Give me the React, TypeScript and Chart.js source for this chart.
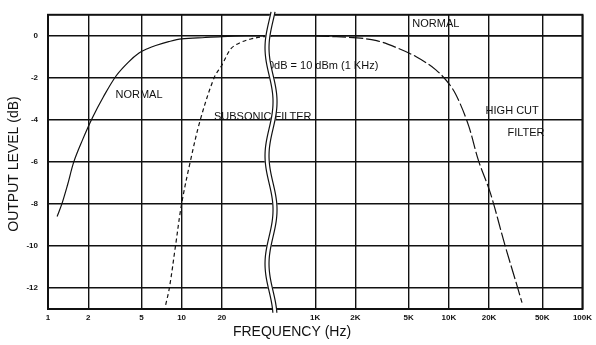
import React, { useEffect, useRef } from "react";
import { Chart, registerables } from "chart.js";

Chart.register(...registerables);

// Broken log axis: one decade (47.5 Hz .. 475 Hz) is cut out
const BREAK_LOW = 47.5;
const BREAK_HIGH = 475;

const xTickFreqs = [1, 2, 5, 10, 20, 1000, 2000, 5000, 10000, 20000, 50000, 100000];
const xTickLabels = ["1", "2", "5", "10", "20", "1K", "2K", "5K", "10K", "20K", "50K", "100K"];
const yTickVals = [-12, -10, -8, -6, -4, -2, 0];

const normalFreq = [1.17, 1.27, 1.4, 1.56, 1.8, 2.15, 2.6, 3.24, 4, 4.8, 5.6, 6.4, 8, 10, 15, 20, 30, 47.5, 475, 1000, 2000, 5000, 10000, 20000, 50000, 100000];
const normalDb = [-8.6, -8.0, -7.1, -6.0, -5.0, -3.9, -2.9, -1.9, -1.25, -0.82, -0.6, -0.46, -0.28, -0.15, -0.08, -0.04, -0.01, 0, 0, 0, 0, 0, 0, 0, 0, 0];

const subFreq = [7.6, 8.1, 9.0, 10, 11.6, 13.8, 17.5, 20, 23.5, 28, 33, 40, 47.5];
const subDb = [-12.8, -12, -10, -8, -6, -4, -2, -1.4, -0.6, -0.3, -0.15, -0.05, 0];

const highFreq = [1000, 2050, 2880, 4050, 5700, 8000, 10350, 11900, 14100, 16700, 20500, 26400, 31400, 35300];
const highDb = [0, -0.1, -0.23, -0.56, -1.0, -1.62, -2.4, -3.1, -4.3, -5.95, -7.5, -10, -11.6, -12.7];

const noteTexts = ["NORMAL", "SUBSONIC FILTER", "0dB = 10 dBm (1 KHz)", "NORMAL", "HIGH CUT", "FILTER"];
const noteFreq = [4.8, 40.5, 1146, 8000, 29800, 37800];
const noteDb = [-2.8, -3.86, -1.44, 0.56, -3.58, -4.6];

function toAxis(f: number): number {
  return f <= BREAK_LOW ? Math.log10(f) : Math.log10(f) - Math.log10(BREAK_HIGH / BREAK_LOW);
}

const FONT = "'Liberation Sans', Arial, sans-serif";
const INK = "#111";

const pts = (fs: number[], ds: number[]) => fs.map((f, i) => ({ x: toAxis(f), y: ds[i] }));

const decorPlugin = {
  id: "decor",
  afterDatasetsDraw(chart: any) {
    const { ctx, chartArea } = chart;
    const xs = chart.scales.x;
    const ys = chart.scales.y;
    ctx.save();
    // frame
    ctx.strokeStyle = INK;
    ctx.lineWidth = 2;
    ctx.strokeRect(chartArea.left, chartArea.top, chartArea.right - chartArea.left, chartArea.bottom - chartArea.top);
    // notes
    ctx.fillStyle = INK;
    ctx.font = `11px ${FONT}`;
    ctx.textAlign = "center";
    ctx.textBaseline = "middle";
    noteTexts.forEach((t, i) => {
      ctx.fillText(t, xs.getPixelForValue(toAxis(noteFreq[i])), ys.getPixelForValue(noteDb[i]));
    });
    // wavy break
    const x0 = xs.getPixelForValue(Math.log10(BREAK_LOW)) - 1;
    const y0 = chartArea.top - 3;
    const y1 = chartArea.bottom + 4;
    const wave = (off: number) => {
      ctx.beginPath();
      for (let y = y0; y <= y1; y += 1) {
        const x = x0 + off + 4 * Math.cos((2 * Math.PI * (y - (chartArea.top + 87))) / 108);
        if (y === y0) ctx.moveTo(x, y);
        else ctx.lineTo(x, y);
      }
      ctx.stroke();
    };
    ctx.strokeStyle = "#fff";
    ctx.lineWidth = 5;
    wave(0);
    ctx.strokeStyle = INK;
    ctx.lineWidth = 1.2;
    wave(-2);
    wave(2);
    // axis titles
    ctx.font = `14px ${FONT}`;
    ctx.fillStyle = INK;
    ctx.fillText("FREQUENCY (Hz)", 292, 332);
    ctx.translate(14, 164);
    ctx.rotate(-Math.PI / 2);
    ctx.fillText("OUTPUT LEVEL (dB)", 0, 0);
    ctx.restore();
  },
};

export default function App() {
  const ref = useRef<HTMLCanvasElement>(null);
  useEffect(() => {
    if (!ref.current) return;
    const line = (data: any, dash: number[]) => ({
      data,
      borderColor: INK,
      borderWidth: 1.2,
      borderDash: dash,
      pointRadius: 0,
      tension: 0.35,
    });
    const chart = new Chart(ref.current, {
      type: "line",
      data: {
        datasets: [
          { label: "NORMAL", ...line(pts(normalFreq, normalDb), []) },
          { label: "SUBSONIC FILTER", ...line(pts(subFreq, subDb), [4, 3]) },
          { label: "HIGH CUT FILTER", ...line(pts(highFreq, highDb), [14, 3]) },
        ],
      },
      options: {
        animation: false,
        responsive: false,
        layout: { padding: { top: 8, right: 8, left: 0, bottom: 0 } },
        plugins: { legend: { display: false }, tooltip: { enabled: false } },
        scales: {
          x: {
            type: "linear",
            min: 0,
            max: toAxis(100000),
            afterBuildTicks: (s: any) => {
              s.ticks = xTickFreqs.map((f) => ({ value: toAxis(f) }));
            },
            afterFit: (s: any) => {
              s.height = 36;
            },
            grid: { color: INK, lineWidth: 1.4, drawTicks: false },
            border: { display: false },
            ticks: {
              autoSkip: false,
              maxRotation: 0,
              padding: 4,
              color: INK,
              font: { family: FONT, size: 8, weight: "bold" },
              callback: (_v: any, i: number) => xTickLabels[i],
            },
          },
          y: {
            type: "linear",
            min: -13,
            max: 1,
            afterBuildTicks: (s: any) => {
              s.ticks = yTickVals.map((v) => ({ value: v }));
            },
            afterFit: (s: any) => {
              s.width = 48;
            },
            grid: { color: INK, lineWidth: 1.4, drawTicks: false },
            border: { display: false },
            ticks: {
              padding: 10,
              color: INK,
              font: { family: FONT, size: 8, weight: "bold" },
              callback: (v: any) => String(v),
            },
          },
        },
      },
      plugins: [decorPlugin],
    } as any);
    return () => chart.destroy();
  }, []);
  return (
    <div style={{ position: "fixed", left: 0, top: 0, width: 596, height: 345, background: "#fff" }}>
      <canvas ref={ref} width={596} height={345} />
    </div>
  );
}
